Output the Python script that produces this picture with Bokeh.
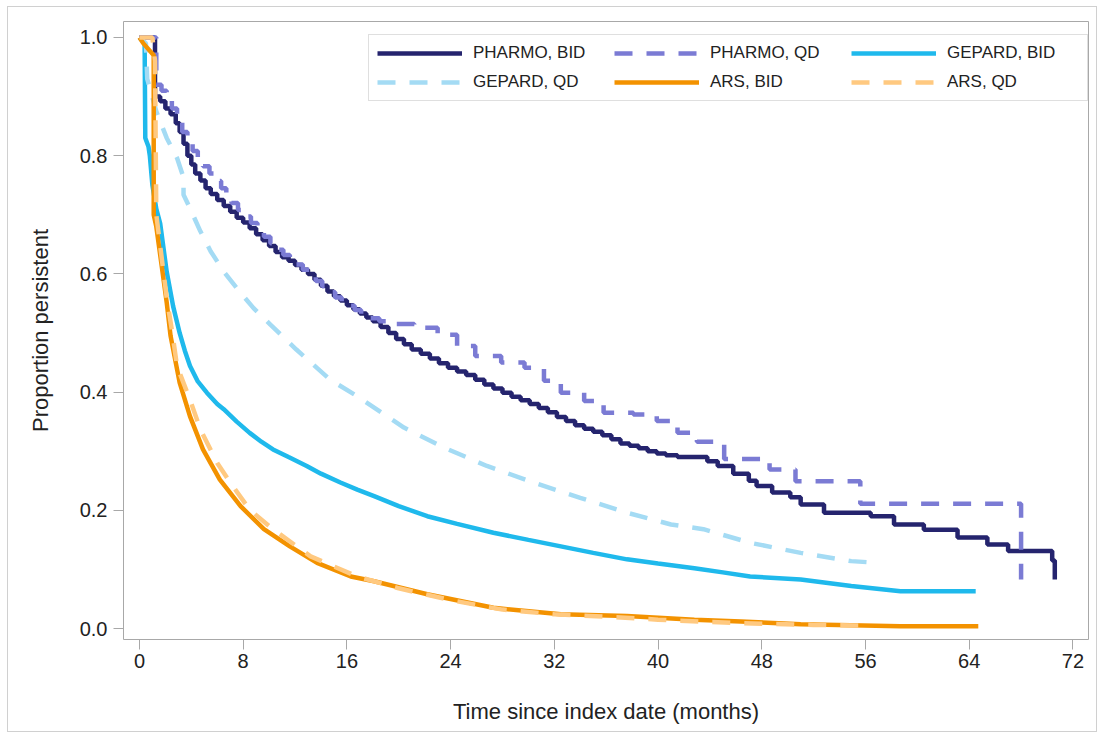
from bokeh.plotting import figure
from bokeh.models import Range1d, FixedTicker, PrintfTickFormatter, Legend, LegendItem
from bokeh.embed import file_html
from bokeh.resources import INLINE

# ---- data ----
pharmo_bid_t = [0, 1.2, 1.6, 2.0, 2.4, 2.8, 3.1, 3.4, 3.7, 4.0, 4.3, 4.7, 5.1, 5.5, 6.0, 6.5, 7.0,
                7.5, 8.0, 8.5, 9.0, 9.5, 10.0, 10.5, 11.0, 11.5, 12.0, 12.5, 13.0, 13.5, 14.0, 14.5,
                15.0, 15.5, 16.0, 16.5, 17.0, 17.5, 18.0, 18.6, 19.2, 19.8, 20.4, 21.0, 21.7, 22.4,
                23.1, 23.8, 24.5, 25.2, 25.9, 26.6, 27.3, 28.0, 28.7, 29.4, 30.1, 30.8, 31.5, 32.2,
                32.9, 33.6, 34.3, 35.0, 35.7, 36.4, 37.1, 37.8, 38.5, 39.2, 39.9, 40.6, 41.5, 43.8,
                44.6, 45.8, 47.0, 47.6, 48.8, 50.2, 51.0, 52.8, 56.4, 58.2, 60.5, 63.1, 65.4, 67.0,
                70.4, 70.6]
pharmo_bid_s = [1.0, 0.90, 0.892, 0.88, 0.87, 0.855, 0.84, 0.82, 0.80, 0.785, 0.77, 0.758, 0.745,
                0.735, 0.725, 0.715, 0.705, 0.695, 0.687, 0.677, 0.667, 0.657, 0.647, 0.637, 0.628,
                0.622, 0.615, 0.607, 0.60, 0.59, 0.58, 0.57, 0.562, 0.555, 0.547, 0.54, 0.533, 0.526,
                0.52, 0.51, 0.50, 0.49, 0.481, 0.472, 0.465, 0.457, 0.449, 0.441, 0.435, 0.429,
                0.421, 0.413, 0.406, 0.399, 0.392, 0.386, 0.38, 0.373, 0.366, 0.358, 0.351, 0.344,
                0.338, 0.333, 0.327, 0.32, 0.313, 0.309, 0.305, 0.30, 0.296, 0.293, 0.29, 0.283,
                0.275, 0.262, 0.25, 0.241, 0.23, 0.222, 0.21, 0.196, 0.19, 0.176, 0.167, 0.154,
                0.142, 0.131, 0.115, 0.083]

pharmo_qd_t = [0, 1.3, 1.7, 2.1, 2.5, 2.9, 3.3, 3.7, 4.1, 4.5, 4.9, 5.4, 5.9, 6.3, 6.7, 7.1, 7.6,
               8.1, 8.6, 9.1, 9.6, 10.1, 10.6, 11.1, 11.6, 12.1, 12.6, 13.1, 13.6, 14.1, 14.6, 15.1,
               15.6, 16.1, 16.6, 17.1, 17.7, 18.5, 19.8, 21.2, 23.0, 24.5, 25.9, 27.9, 29.7, 31.2,
               32.5, 34.3, 35.8, 38.1, 39.9, 41.5, 43.0, 45.1, 48.6, 50.6, 55.6, 68.0]
pharmo_qd_s = [1.0, 0.92, 0.91, 0.895, 0.88, 0.862, 0.84, 0.822, 0.808, 0.795, 0.782, 0.77, 0.757,
               0.745, 0.732, 0.72, 0.708, 0.697, 0.686, 0.675, 0.663, 0.652, 0.641, 0.632, 0.624,
               0.616, 0.607, 0.598, 0.588, 0.579, 0.569, 0.56, 0.553, 0.546, 0.539, 0.532, 0.525,
               0.52, 0.515, 0.509, 0.497, 0.478, 0.461, 0.45, 0.441, 0.419, 0.399, 0.385, 0.365,
               0.362, 0.351, 0.331, 0.316, 0.287, 0.269, 0.249, 0.211, 0.083]

gepard_bid_t = [0, 0.4, 0.45, 0.7, 0.8, 1.0, 1.3, 1.6, 2.1, 2.6, 3.1, 3.5, 3.9, 4.5, 5.2, 6.0, 6.5,
                7.5, 8.5, 9.4, 10.3, 11.5, 12.9, 14.0, 15.5, 16.8, 18.1, 20.0, 22.2, 24.5, 27.3,
                30.0, 32.5, 35.0, 37.6, 40.0, 42.8, 45.0, 47.1, 51.0, 54.9, 58.7, 64.5]
gepard_bid_s = [1.0, 0.99, 0.83, 0.815, 0.80, 0.75, 0.71, 0.685, 0.604, 0.545, 0.50, 0.47, 0.444,
                0.418, 0.399, 0.38, 0.371, 0.35, 0.331, 0.316, 0.303, 0.29, 0.275, 0.262, 0.247,
                0.235, 0.224, 0.207, 0.19, 0.177, 0.162, 0.15, 0.139, 0.128, 0.117, 0.11, 0.102,
                0.095, 0.088, 0.083, 0.072, 0.063, 0.063]

gepard_qd_t = [0, 0.5, 0.6, 1.3, 2.1, 2.9, 3.4, 3.4, 3.9, 4.7, 5.5, 6.5, 7.5, 8.8, 10.1, 12.1, 14.7,
               16.8, 20.4, 23.5, 26.8, 30.4, 34.0, 37.6, 41.0, 43.5, 47.1, 51.0, 54.9, 57.0]
gepard_qd_s = [1.0, 0.99, 0.93, 0.875, 0.83, 0.796, 0.763, 0.734, 0.711, 0.672, 0.638, 0.604, 0.576,
               0.542, 0.514, 0.472, 0.421, 0.393, 0.34, 0.306, 0.275, 0.247, 0.221, 0.196, 0.176,
               0.168, 0.145, 0.128, 0.114, 0.111]

ars_bid_t = [0, 0.3, 1.1, 1.1, 1.3, 1.6, 2.1, 2.4, 3.1, 3.9, 4.9, 6.2, 7.8, 9.6, 11.6, 13.7, 16.3,
             18.1, 22.2, 27.3, 32.5, 37.6, 42.8, 46.4, 51.0, 58.7, 64.7]
ars_bid_s = [1.0, 0.99, 0.97, 0.70, 0.68, 0.632, 0.552, 0.495, 0.416, 0.359, 0.303, 0.252, 0.207,
             0.168, 0.139, 0.111, 0.088, 0.08, 0.058, 0.035, 0.024, 0.021, 0.015, 0.012, 0.007,
             0.004, 0.004]

ars_qd_t = [0, 1.0, 1.2, 1.3, 1.7, 2.1, 2.5, 2.9, 3.9, 4.7, 6.0, 7.0, 8.5, 10.3, 13.2, 16.8, 20.0,
            24.0, 28.0, 32.0, 36.0, 40.0, 44.0, 48.0, 52.0, 56.5]
ars_qd_s = [1.0, 1.0, 0.96, 0.70, 0.63, 0.56, 0.505, 0.444, 0.387, 0.337, 0.28, 0.247, 0.201,
            0.168, 0.122, 0.088, 0.068, 0.048, 0.032, 0.024, 0.02, 0.015, 0.011, 0.008, 0.006, 0.005]

labels = ["PHARMO, BID", "PHARMO, QD", "GEPARD, BID", "GEPARD, QD", "ARS, BID", "ARS, QD"]
x_ticks = [0, 8, 16, 24, 32, 40, 48, 56, 64, 72]
y_ticks = [0.0, 0.2, 0.4, 0.6, 0.8, 1.0]

FONT = "Liberation Sans"
TXT = "#222222"
GRAY = "#a8a8a8"

p = figure(width=1090, height=726, output_backend="svg", toolbar_location=None,
           x_range=Range1d(-1.23, 73.2), y_range=Range1d(-0.0186, 1.027),
           min_border_left=115, min_border_right=10, min_border_top=14, min_border_bottom=94)
p.styles = {"border": "1px solid #d0d0d0", "margin-left": "7px", "margin-top": "6px"}
p.xgrid.grid_line_color = None
p.ygrid.grid_line_color = None
p.outline_line_color = GRAY
p.outline_line_width = 1
p.background_fill_color = "white"
p.border_fill_color = "white"

for ax in (p.xaxis[0], p.yaxis[0]):
    ax.axis_line_color = None
    ax.major_tick_line_color = GRAY
    ax.minor_tick_line_color = None
    ax.major_tick_in = 0
    ax.major_tick_out = 10
    ax.major_label_text_font = FONT
    ax.major_label_text_font_size = "20px"
    ax.major_label_text_color = TXT
    ax.axis_label_text_font = FONT
    ax.axis_label_text_font_size = "22px"
    ax.axis_label_text_font_style = "normal"
    ax.axis_label_text_color = TXT

p.xaxis.ticker = FixedTicker(ticks=x_ticks)
p.yaxis.ticker = FixedTicker(ticks=y_ticks)
p.yaxis.formatter = PrintfTickFormatter(format="%.1f")
p.xaxis.axis_label = "Time since index date (months)"
p.yaxis.axis_label = "Proportion persistent"
p.xaxis.major_label_standoff = 4
p.yaxis.major_label_standoff = 6
p.xaxis.axis_label_standoff = 28
p.yaxis.axis_label_standoff = 24

LW = 4.5
DASH = "18 14"
colors = ["#25246e", "#7b7bd4", "#1fb9ec", "#a4dbf4", "#f39200", "#ffc980"]
r1 = p.step(pharmo_bid_t, pharmo_bid_s, mode="after", line_color=colors[0], line_width=LW)
r2 = p.step(pharmo_qd_t, pharmo_qd_s, mode="after", line_color=colors[1], line_width=LW,
            line_dash=DASH)
r3 = p.line(gepard_bid_t, gepard_bid_s, line_color=colors[2], line_width=LW)
r4 = p.line(gepard_qd_t, gepard_qd_s, line_color=colors[3], line_width=LW, line_dash=DASH)
r5 = p.line(ars_bid_t, ars_bid_s, line_color=colors[4], line_width=LW)
r6 = p.line(ars_qd_t, ars_qd_s, line_color=colors[5], line_width=LW, line_dash=DASH)

rends = [r1, r2, r3, r4, r5, r6]
# legend fills column by column: order so that rows read like the reference
order = [0, 3, 1, 4, 2, 5]
items = [LegendItem(label=labels[i], renderers=[rends[i]]) for i in order]
legend = Legend(items=items, ncols=3, location=(245, 538),
                glyph_width=85, glyph_height=20, label_width=132, label_height=20,
                label_standoff=11, spacing=9, padding=8,
                label_text_font=FONT, label_text_font_size="17px", label_text_color=TXT,
                border_line_color="#c0c0c0", border_line_width=1,
                background_fill_color="white", background_fill_alpha=1.0)
p.add_layout(legend, "center")

open("out.html", "w").write(file_html(p, INLINE))
